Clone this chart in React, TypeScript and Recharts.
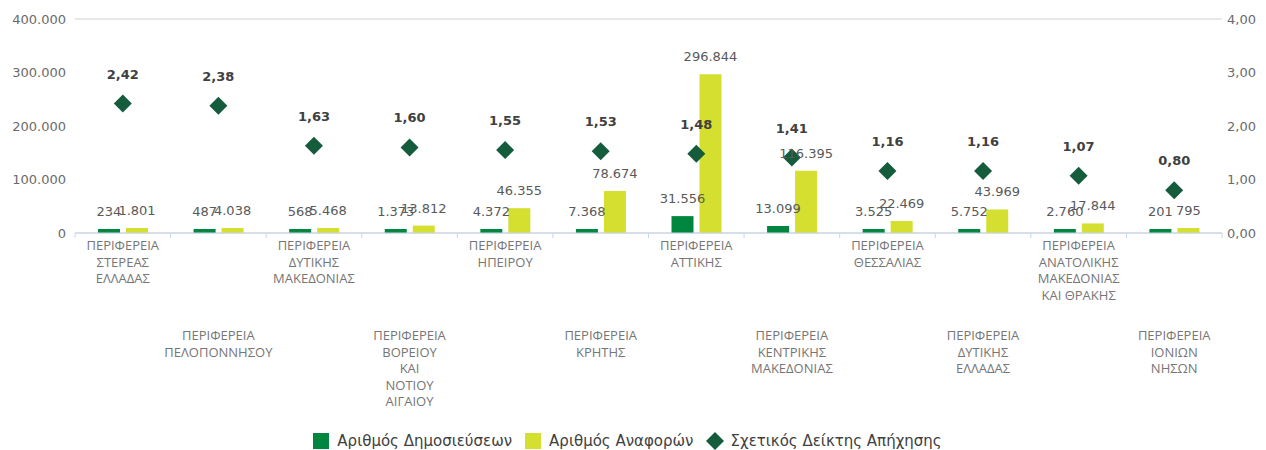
import { ComposedChart, Bar, Line, XAxis, YAxis, CartesianGrid, Legend, LabelList } from 'recharts'

const regions = [
  'ΠΕΡΙΦΕΡΕΙΑ\nΣΤΕΡΕΑΣ\nΕΛΛΑΔΑΣ',
  'ΠΕΡΙΦΕΡΕΙΑ\nΠΕΛΟΠΟΝΝΗΣΟΥ',
  'ΠΕΡΙΦΕΡΕΙΑ\nΔΥΤΙΚΗΣ\nΜΑΚΕΔΟΝΙΑΣ',
  'ΠΕΡΙΦΕΡΕΙΑ\nΒΟΡΕΙΟΥ\nΚΑΙ\nΝΟΤΙΟΥ\nΑΙΓΑΙΟΥ',
  'ΠΕΡΙΦΕΡΕΙΑ\nΗΠΕΙΡΟΥ',
  'ΠΕΡΙΦΕΡΕΙΑ\nΚΡΗΤΗΣ',
  'ΠΕΡΙΦΕΡΕΙΑ\nΑΤΤΙΚΗΣ',
  'ΠΕΡΙΦΕΡΕΙΑ\nΚΕΝΤΡΙΚΗΣ\nΜΑΚΕΔΟΝΙΑΣ',
  'ΠΕΡΙΦΕΡΕΙΑ\nΘΕΣΣΑΛΙΑΣ',
  'ΠΕΡΙΦΕΡΕΙΑ\nΔΥΤΙΚΗΣ\nΕΛΛΑΔΑΣ',
  'ΠΕΡΙΦΕΡΕΙΑ\nΑΝΑΤΟΛΙΚΗΣ\nΜΑΚΕΔΟΝΙΑΣ\nΚΑΙ ΘΡΑΚΗΣ',
  'ΠΕΡΙΦΕΡΕΙΑ\nΙΟΝΙΩΝ\nΝΗΣΩΝ',
]

const publications = [234, 487, 568, 1373, 4372, 7368, 31556, 13099, 3525, 5752, 2760, 201]
const references = [1801, 4038, 5468, 13812, 46355, 78674, 296844, 116395, 22469, 43969, 17844, 795]
const ratio = [2.42, 2.38, 1.63, 1.6, 1.55, 1.53, 1.48, 1.41, 1.16, 1.16, 1.07, 0.8]

const leftTicks = [0, 100000, 200000, 300000, 400000]
const rightTicks = [0, 1, 2, 3, 4]

const GREEN = '#00863e'
const YELLOW = '#d4df30'
const DIAMOND = '#145c3c'

const legendItems = [
  { name: 'Αριθμός Δημοσιεύσεων', color: GREEN, type: 'square' },
  { name: 'Αριθμός Αναφορών', color: YELLOW, type: 'square' },
  { name: 'Σχετικός Δείκτης Απήχησης', color: DIAMOND, type: 'diamond' },
]

const data = regions.map((name, i) => ({
  name,
  publications: publications[i],
  references: references[i],
  ratio: ratio[i],
}))

const fmtInt = (v: number) => String(v).replace(/\B(?=(\d{3})+(?!\d))/g, '.')
const fmtDec = (v: number) => Number(v).toFixed(2).replace('.', ',')

const NUM_FONT = 'DejaVu Sans'
const TEXT_FONT = 'Open Sans'

const CategoryTick = ({ x, y, payload, index }: any) => {
  const lines = String(payload.value).split('\n')
  const half = payload.offset || 47.8
  const top = index % 2 === 0 ? 17 : 107
  return (
    <g>
      <line x1={x - half} x2={x - half} y1={y} y2={y + 5} stroke="#c6d7ea" />
      {index === regions.length - 1 && (
        <line x1={x + half} x2={x + half} y1={y} y2={y + 5} stroke="#c6d7ea" />
      )}
      <text x={x} y={y + top} textAnchor="middle" fill="#767676" fontSize={13} fontFamily={TEXT_FONT}>
        {lines.map((l, i) => (
          <tspan key={i} x={x} dy={i === 0 ? 0 : 16.5}>
            {l}
          </tspan>
        ))}
      </text>
    </g>
  )
}

const Diamond = ({ cx, cy }: any) => (
  <path d={`M${cx},${cy - 9} L${cx + 9},${cy} L${cx},${cy + 9} L${cx - 9},${cy} Z`} fill={DIAMOND} />
)

// legend is drawn by hand so the icons and spacing match
const LegendContent = () => (
  <div
    style={{
      display: 'flex',
      justifyContent: 'center',
      alignItems: 'center',
      height: 18,
      paddingTop: 6,
      fontFamily: NUM_FONT,
      fontSize: 15,
      color: '#404040',
    }}
  >
    {legendItems.map((item) => (
      <div key={item.name} style={{ display: 'flex', alignItems: 'center', marginRight: 12 }}>
        <svg width={18} height={18} style={{ marginRight: 7 }}>
          {item.type === 'square' ? (
            <rect x={1} y={1} width={16} height={16} fill={item.color} />
          ) : (
            <path d="M9,0 L18,9 L9,18 L0,9 Z" fill={item.color} />
          )}
        </svg>
        <span>{item.name}</span>
      </div>
    ))}
  </div>
)

export default function App() {
  return (
    <ComposedChart
      width={1250}
      height={442}
      data={data}
      margin={{ top: 11, right: 0, left: 0, bottom: 0 }}
      barGap={6}
    >
      <CartesianGrid vertical={false} stroke="#d0d0d0" />
      <XAxis
        dataKey="name"
        interval={0}
        height={193}
        tick={<CategoryTick />}
        tickLine={false}
        tickSize={0}
        tickMargin={0}
        axisLine={{ stroke: '#c6d7ea' }}
      />
      <YAxis
        yAxisId="left"
        width={67}
        domain={[0, 400000]}
        ticks={leftTicks}
        tickFormatter={fmtInt}
        axisLine={false}
        tickLine={false}
        tickSize={6}
        tickMargin={3}
        tick={{ fill: '#6b6b6b', fontSize: 13, fontFamily: NUM_FONT }}
      />
      <YAxis
        yAxisId="right"
        orientation="right"
        width={36}
        domain={[0, 4]}
        ticks={rightTicks}
        tickFormatter={fmtDec}
        axisLine={false}
        tickLine={false}
        tickSize={5}
        tickMargin={0}
        tick={{ fill: '#6b6b6b', fontSize: 13, fontFamily: NUM_FONT }}
      />
      <Legend verticalAlign="bottom" content={<LegendContent />} />
      <Bar
        yAxisId="left"
        dataKey="publications"
        name="Αριθμός Δημοσιεύσεων"
        fill={GREEN}
        barSize={22}
        minPointSize={4}
        isAnimationActive={false}
      >
        <LabelList
          dataKey="publications"
          position="top"
          offset={13}
          formatter={fmtInt}
          fill="#595959"
          fontSize={13}
          fontFamily={NUM_FONT}
        />
      </Bar>
      <Bar
        yAxisId="left"
        dataKey="references"
        name="Αριθμός Αναφορών"
        fill={YELLOW}
        barSize={22}
        minPointSize={5}
        isAnimationActive={false}
      >
        <LabelList
          dataKey="references"
          position="top"
          offset={13}
          formatter={fmtInt}
          fill="#595959"
          fontSize={13}
          fontFamily={NUM_FONT}
        />
      </Bar>
      <Line
        yAxisId="right"
        dataKey="ratio"
        name="Σχετικός Δείκτης Απήχησης"
        stroke="none"
        dot={<Diamond />}
        activeDot={false}
        legendType="diamond"
        isAnimationActive={false}
      >
        <LabelList
          dataKey="ratio"
          position="top"
          offset={25}
          formatter={fmtDec}
          fill="#404040"
          fontSize={13}
          fontWeight="bold"
          fontFamily={NUM_FONT}
        />
      </Line>
    </ComposedChart>
  )
}
